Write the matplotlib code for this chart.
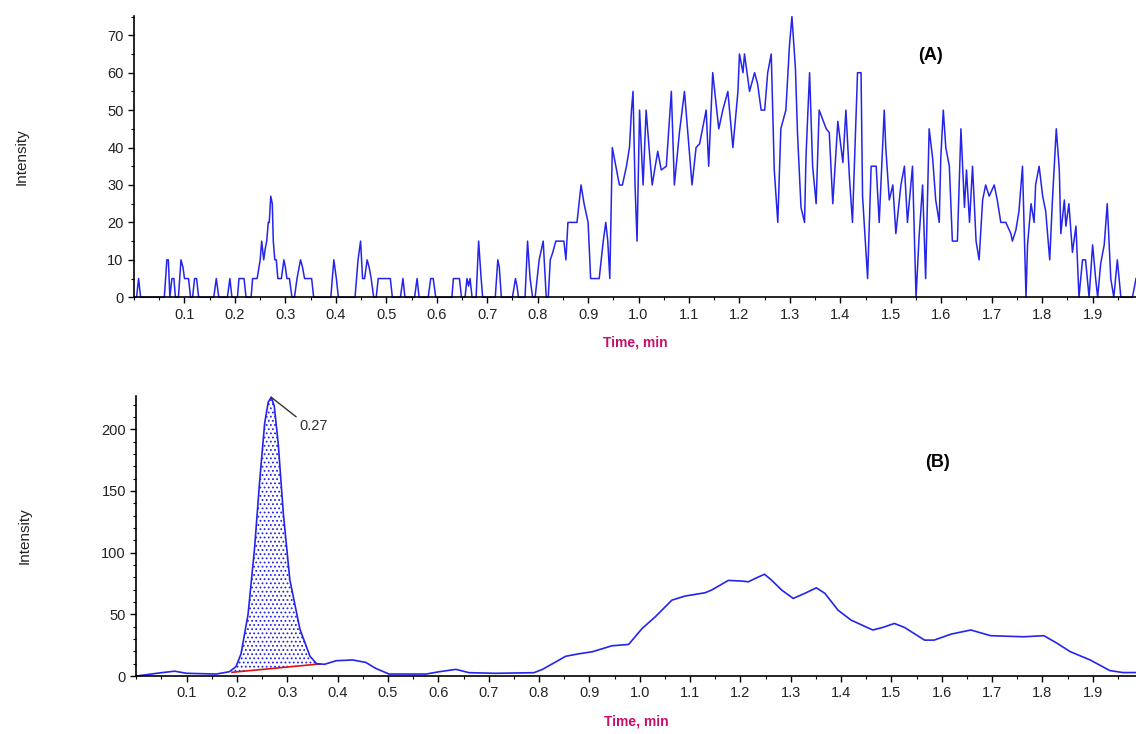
import numpy as np
import matplotlib.pyplot as plt
from matplotlib.ticker import MultipleLocator

plt.rcParams['font.family'] = ['Liberation Sans', 'DejaVu Sans']
plt.rcParams['hatch.linewidth'] = 0.8

# (A) raw extracted ion chromatogram: retention time (min) / intensity
time_a = [
    0.000, 0.005, 0.009, 0.013, 0.060, 0.065, 0.068, 0.071, 0.075, 0.079,
    0.082, 0.088, 0.093, 0.097, 0.100, 0.108, 0.112, 0.116, 0.120, 0.124,
    0.128, 0.158, 0.163, 0.168, 0.185, 0.190, 0.194, 0.205, 0.208, 0.218,
    0.222, 0.232, 0.235, 0.244, 0.250, 0.253, 0.257, 0.260, 0.263, 0.266,
    0.268, 0.271, 0.274, 0.276, 0.279, 0.282, 0.285, 0.292, 0.297, 0.300,
    0.303, 0.308, 0.313, 0.318, 0.323, 0.330, 0.334, 0.338, 0.352, 0.356,
    0.390, 0.396, 0.401, 0.405, 0.438, 0.444, 0.449, 0.453, 0.457, 0.462,
    0.466, 0.470, 0.475, 0.480, 0.484, 0.508, 0.512, 0.528, 0.533, 0.537,
    0.556, 0.561, 0.565, 0.583, 0.588, 0.593, 0.598, 0.630, 0.633, 0.645,
    0.649, 0.656, 0.660, 0.663, 0.666, 0.670, 0.678, 0.683, 0.688, 0.691,
    0.716, 0.721, 0.724, 0.728, 0.750, 0.756, 0.759, 0.762, 0.775, 0.780,
    0.785, 0.790, 0.795, 0.803, 0.811, 0.817, 0.821, 0.825, 0.830, 0.836,
    0.852, 0.856, 0.860, 0.878, 0.886, 0.892, 0.900, 0.905, 0.922, 0.930,
    0.935, 0.939, 0.943, 0.948, 0.955, 0.962, 0.968, 0.976, 0.982, 0.986,
    0.989, 0.993, 0.997, 1.002, 1.009, 1.015, 1.022, 1.027, 1.038, 1.045,
    1.055, 1.065, 1.071, 1.081, 1.091, 1.106, 1.114, 1.121, 1.134, 1.139,
    1.147, 1.159, 1.167, 1.177, 1.187, 1.197, 1.200, 1.207, 1.210, 1.220,
    1.230, 1.236, 1.243, 1.250, 1.256, 1.263, 1.269, 1.276, 1.282, 1.292,
    1.299, 1.304, 1.311, 1.315, 1.322, 1.329, 1.332, 1.339, 1.345, 1.352,
    1.358, 1.372, 1.378, 1.385, 1.395, 1.405, 1.411, 1.418, 1.424, 1.434,
    1.441, 1.444, 1.454, 1.461, 1.471, 1.477, 1.487, 1.490, 1.497, 1.504,
    1.510, 1.520, 1.527, 1.533, 1.543, 1.550, 1.556, 1.563, 1.569, 1.576,
    1.583, 1.589, 1.596, 1.599, 1.604, 1.609, 1.616, 1.622, 1.632, 1.639,
    1.646, 1.650, 1.656, 1.662, 1.669, 1.675, 1.682, 1.688, 1.695, 1.705,
    1.711, 1.718, 1.728, 1.738, 1.741, 1.748, 1.754, 1.761, 1.768, 1.771,
    1.778, 1.784, 1.787, 1.794, 1.801, 1.807, 1.815, 1.820, 1.828, 1.834,
    1.837, 1.844, 1.847, 1.853, 1.860, 1.867, 1.873, 1.880, 1.886, 1.893,
    1.900, 1.906, 1.910, 1.916, 1.923, 1.929, 1.936, 1.942, 1.949, 1.956,
    1.979, 1.986,
]
intensity_a = [
    0, 0, 5, 0, 0, 10, 10, 0, 5, 5,
    0, 0, 10, 8, 5, 5, 0, 0, 5, 5,
    0, 0, 5, 0, 0, 5, 0, 0, 5, 5,
    0, 0, 5, 5, 10, 15, 10, 13, 15, 20,
    20, 27, 25, 15, 10, 10, 5, 5, 10, 8,
    5, 5, 0, 0, 5, 10, 8, 5, 5, 0,
    0, 10, 5, 0, 0, 10, 15, 5, 5, 10,
    8, 5, 0, 0, 5, 5, 0, 0, 5, 0,
    0, 5, 0, 0, 5, 5, 0, 0, 5, 5,
    0, 0, 5, 3, 5, 0, 0, 15, 5, 0,
    0, 10, 8, 0, 0, 5, 3, 0, 0, 15,
    5, 0, 0, 10, 15, 0, 0, 10, 12, 15,
    15, 10, 20, 20, 30, 25, 20, 5, 5, 15,
    20, 15, 5, 40, 35, 30, 30, 35, 40, 50,
    55, 30, 15, 50, 30, 50, 38, 30, 39, 34,
    35, 55, 30, 44, 55, 30, 40, 41, 50, 35,
    60, 45, 50, 55, 40, 55, 65, 60, 65, 55,
    60, 57, 50, 50, 60, 65, 34, 20, 45, 50,
    67, 75, 61, 44, 24, 20, 38, 60, 35, 25,
    50, 45, 44, 25, 47, 36, 50, 32, 20, 60,
    60, 27, 5, 35, 35, 20, 50, 40, 26, 30,
    17, 30, 35, 20, 35, 0, 16, 30, 5, 45,
    37, 26, 20, 37, 50, 40, 35, 15, 15, 45,
    24, 34, 20, 35, 15, 10, 26, 30, 27, 30,
    26, 20, 20, 17, 15, 18, 23, 35, 0, 14,
    25, 20, 30, 35, 27, 23, 10, 25, 45, 34,
    17, 26, 19, 25, 12, 19, 0, 10, 10, 0,
    14, 5, 0, 9, 14, 25, 5, 0, 10, 0,
    0, 5,
]

# (B) smoothed chromatogram
time_b = [
    0.000, 0.050, 0.076, 0.100, 0.159, 0.185, 0.198, 0.208, 0.222, 0.235,
    0.245, 0.255, 0.262, 0.268, 0.274, 0.282, 0.292, 0.305, 0.325, 0.345,
    0.358, 0.374, 0.397, 0.430, 0.456, 0.475, 0.502, 0.516, 0.576, 0.602,
    0.635, 0.661, 0.714, 0.790, 0.807, 0.853, 0.879, 0.906, 0.945, 0.978,
    1.005, 1.031, 1.064, 1.090, 1.130, 1.143, 1.176, 1.202, 1.216, 1.229,
    1.248, 1.262, 1.282, 1.305, 1.328, 1.351, 1.368, 1.394, 1.420, 1.463,
    1.483, 1.506, 1.526, 1.566, 1.585, 1.619, 1.658, 1.697, 1.763, 1.803,
    1.829, 1.855, 1.895, 1.934, 1.960, 1.986,
]
intensity_b = [
    0.0, 2.7, 3.9, 2.2, 1.6, 3.5, 7.6, 18, 50, 104,
    158, 205, 222, 226, 219, 188, 132, 78, 38, 16,
    10, 9.5, 12.4, 13, 11, 6.3, 1.6, 1.6, 1.6, 3.5,
    5.4, 2.7, 2.2, 2.7, 5.4, 16, 18, 19.7, 24.5, 25.6,
    38.6, 48, 61.5, 64.8, 67.5, 69.7, 77.5, 77, 76.4, 79,
    82.5, 77.7, 69.7, 62.9, 67, 71.5, 67, 53.4, 45.3, 37.3,
    39.4, 42.6, 39.4, 29.1, 29.1, 34, 37.3, 32.7, 31.8, 32.7,
    26.6, 19.8, 13, 4.4, 2.8, 2.8,
]

# integration window and baseline of the 0.27 min peak
peak_start, peak_end = 0.190, 0.365
base_start, base_end = 3.0, 9.8
peak_rt, peak_height = 0.268, 226

line_color = '#2424ec'
label_color = '#c4106a'
xticks = np.round(np.arange(0.1, 1.95, 0.1), 1)


def style_axis(ax, ymax, ymajor, yminor):
    ax.set_xlim(0, 1.986)
    ax.set_ylim(0, ymax)
    for side in ['top', 'right']:
        ax.spines[side].set_visible(False)
    for side in ['left', 'bottom']:
        ax.spines[side].set_linewidth(1.2)
    ax.set_xticks(xticks)
    ax.set_xticklabels(['%.1f' % v for v in xticks])
    ax.xaxis.set_minor_locator(MultipleLocator(0.05))
    ax.yaxis.set_major_locator(MultipleLocator(ymajor))
    ax.yaxis.set_minor_locator(MultipleLocator(yminor))
    ax.tick_params(which='major', direction='out', length=4, width=1,
                   labelsize=10.5, colors='black', labelcolor='#222222')
    ax.tick_params(which='minor', direction='out', length=2, width=0.8)
    ax.set_xlabel('Time, min', fontsize=10, fontweight='bold',
                  color=label_color, labelpad=10)
    ax.set_ylabel('Intensity', fontsize=11, color='#222222')
    ax.yaxis.set_label_coords(-0.105, 0.5)


fig = plt.figure(figsize=(11.36, 7.34), dpi=100)
ax1 = fig.add_axes([0.118, 0.595, 0.882, 0.383])
ax2 = fig.add_axes([0.12, 0.079, 0.88, 0.3815])

ax1.plot(time_a, intensity_a, color=line_color, lw=1.1, clip_on=False)
style_axis(ax1, 75.1, 10, 5)
ax1.text(0.795, 0.861, '(A)', transform=ax1.transAxes, fontsize=13,
         fontweight='bold', ha='center', va='center')

# shaded integration area between baseline and trace
t_fill = [t for t in time_b if peak_start <= t <= peak_end]
t_fill = [peak_start] + t_fill + [peak_end]
y_curve = np.interp(t_fill, time_b, intensity_b)
y_base = np.interp(t_fill, [peak_start, peak_end], [base_start, base_end])
ax2.fill_between(t_fill, y_base, y_curve, facecolor='white',
                 edgecolor=line_color, hatch='....', linewidth=0)
ax2.plot([peak_start, peak_end], [base_start, base_end], color='#e01010', lw=1.2)
ax2.plot(time_b, intensity_b, color=line_color, lw=1.2, clip_on=False)

ax2.annotate('%.2f' % peak_rt, xy=(peak_rt, peak_height),
             xytext=(peak_rt + 0.055, peak_height - 29),
             fontsize=10.5, color='#333333', va='bottom', ha='left',
             arrowprops=dict(arrowstyle='-', color='#333333', lw=1,
                             shrinkA=0, shrinkB=0, relpos=(0, 1)),
             annotation_clip=False)
style_axis(ax2, 227, 50, 10)
ax2.text(0.801, 0.764, '(B)', transform=ax2.transAxes, fontsize=13,
         fontweight='bold', ha='center', va='center')

fig.savefig('out.png', dpi=100)
